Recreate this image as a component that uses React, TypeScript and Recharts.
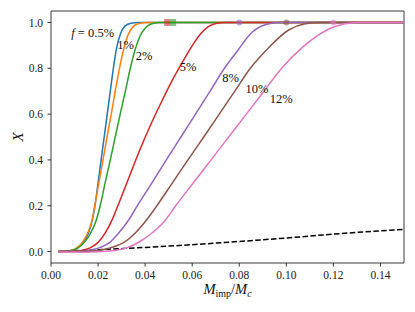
import React from 'react';
import {
  ComposedChart,
  Line,
  Scatter,
  XAxis,
  YAxis,
  ReferenceArea,
  ReferenceDot,
} from 'recharts';

// X vs impactor mass fraction, one curve per f
const f05 = [
  { m: 0.003, X: 0 }, { m: 0.008, X: 0.003 }, { m: 0.011, X: 0.014 }, { m: 0.0135, X: 0.038 },
  { m: 0.0159, X: 0.08 }, { m: 0.0175, X: 0.135 }, { m: 0.0187, X: 0.2 }, { m: 0.02, X: 0.3 },
  { m: 0.0213, X: 0.4 }, { m: 0.0226, X: 0.5 }, { m: 0.0239, X: 0.6 }, { m: 0.0252, X: 0.7 },
  { m: 0.0265, X: 0.8 }, { m: 0.0279, X: 0.89 }, { m: 0.0295, X: 0.95 }, { m: 0.0315, X: 0.985 },
  { m: 0.034, X: 0.997 }, { m: 0.037, X: 1 }, { m: 0.15, X: 1 },
];
const f1 = [
  { m: 0.003, X: 0 }, { m: 0.008, X: 0.004 }, { m: 0.011, X: 0.016 }, { m: 0.0135, X: 0.042 },
  { m: 0.0158, X: 0.085 }, { m: 0.0175, X: 0.14 }, { m: 0.0186, X: 0.2 }, { m: 0.02035, X: 0.3 },
  { m: 0.0221, X: 0.4 }, { m: 0.0238, X: 0.5 }, { m: 0.0256, X: 0.6 }, { m: 0.0273, X: 0.7 },
  { m: 0.0291, X: 0.8 }, { m: 0.0308, X: 0.88 }, { m: 0.0325, X: 0.94 }, { m: 0.0345, X: 0.977 },
  { m: 0.037, X: 0.994 }, { m: 0.041, X: 1 }, { m: 0.15, X: 1 },
];
const f2 = [
  { m: 0.003, X: 0 }, { m: 0.008, X: 0.003 }, { m: 0.0105, X: 0.01 }, { m: 0.0123, X: 0.022 },
  { m: 0.0145, X: 0.045 }, { m: 0.016, X: 0.065 }, { m: 0.0173, X: 0.09 }, { m: 0.019, X: 0.13 },
  { m: 0.0209, X: 0.2 }, { m: 0.023, X: 0.3 }, { m: 0.0252, X: 0.4 }, { m: 0.0273, X: 0.5 },
  { m: 0.0294, X: 0.6 }, { m: 0.0316, X: 0.7 }, { m: 0.0337, X: 0.8 }, { m: 0.0357, X: 0.88 },
  { m: 0.0378, X: 0.94 }, { m: 0.04, X: 0.975 }, { m: 0.0425, X: 0.993 }, { m: 0.046, X: 1 },
  { m: 0.15, X: 1 },
];
const f5 = [
  { m: 0.003, X: 0 }, { m: 0.009, X: 0.001 }, { m: 0.013, X: 0.005 }, { m: 0.0166, X: 0.016 },
  { m: 0.02, X: 0.04 }, { m: 0.023, X: 0.08 }, { m: 0.0258, X: 0.135 }, { m: 0.0284, X: 0.2 },
  { m: 0.033, X: 0.32 }, { m: 0.0376, X: 0.44 }, { m: 0.0422, X: 0.55 }, { m: 0.0468, X: 0.65 },
  { m: 0.0514, X: 0.745 }, { m: 0.0555, X: 0.82 }, { m: 0.0595, X: 0.89 }, { m: 0.0635, X: 0.95 },
  { m: 0.067, X: 0.983 }, { m: 0.0705, X: 0.997 }, { m: 0.074, X: 1 }, { m: 0.15, X: 1 },
];
const f8 = [
  { m: 0.003, X: 0 }, { m: 0.01, X: 0.001 }, { m: 0.015, X: 0.004 }, { m: 0.021, X: 0.018 },
  { m: 0.025, X: 0.04 }, { m: 0.0287, X: 0.08 }, { m: 0.0325, X: 0.13 }, { m: 0.0367, X: 0.2 },
  { m: 0.0429, X: 0.3 }, { m: 0.049, X: 0.4 }, { m: 0.0552, X: 0.5 }, { m: 0.0614, X: 0.6 },
  { m: 0.0676, X: 0.7 }, { m: 0.0737, X: 0.8 }, { m: 0.0795, X: 0.88 }, { m: 0.0847, X: 0.95 },
  { m: 0.091, X: 0.99 }, { m: 0.097, X: 1 }, { m: 0.15, X: 1 },
];
const f10 = [
  { m: 0.003, X: 0 }, { m: 0.012, X: 0.001 }, { m: 0.019, X: 0.004 }, { m: 0.024, X: 0.012 },
  { m: 0.027, X: 0.022 }, { m: 0.031, X: 0.04 }, { m: 0.0357, X: 0.08 }, { m: 0.04, X: 0.13 },
  { m: 0.045, X: 0.2 }, { m: 0.0516, X: 0.3 }, { m: 0.0582, X: 0.4 }, { m: 0.0649, X: 0.5 },
  { m: 0.0715, X: 0.6 }, { m: 0.0781, X: 0.7 }, { m: 0.0847, X: 0.8 }, { m: 0.0925, X: 0.89 },
  { m: 0.101, X: 0.967 }, { m: 0.108, X: 0.994 }, { m: 0.1145, X: 1 }, { m: 0.15, X: 1 },
];
const f12 = [
  { m: 0.003, X: -0.002 }, { m: 0.015, X: -0.003 }, { m: 0.025, X: 0.002 }, { m: 0.03, X: 0.01 },
  { m: 0.0336, X: 0.022 }, { m: 0.038, X: 0.045 }, { m: 0.0428, X: 0.08 }, { m: 0.048, X: 0.13 },
  { m: 0.053, X: 0.2 }, { m: 0.0605, X: 0.3 }, { m: 0.068, X: 0.4 }, { m: 0.0755, X: 0.5 },
  { m: 0.083, X: 0.6 }, { m: 0.0905, X: 0.7 }, { m: 0.098, X: 0.8 }, { m: 0.1067, X: 0.89 },
  { m: 0.1173, X: 0.967 }, { m: 0.125, X: 0.994 }, { m: 0.132, X: 1 }, { m: 0.15, X: 1 },
];
const baseline = [
  { m: 0.003, X: 0 }, { m: 0.02, X: 0.008 }, { m: 0.04, X: 0.018 }, { m: 0.06, X: 0.03 },
  { m: 0.08, X: 0.044 }, { m: 0.1, X: 0.059 }, { m: 0.12, X: 0.076 }, { m: 0.15, X: 0.097 },
];

const squareMarks = [
  { m: 0.0494, X: 1, color: '#d62728' },
  { m: 0.0519, X: 1, color: '#2ca02c' },
];
const circleMarks = [
  { m: 0.08, X: 1, color: '#9467bd' },
  { m: 0.1, X: 1, color: '#8c564b' },
  { m: 0.12, X: 1, color: '#e377c2' },
];

const curveLabels = [
  { m: 0.0177, X: 0.955, text: '0.5%', withF: true },
  { m: 0.0317, X: 0.9, text: '1%' },
  { m: 0.0396, X: 0.854, text: '2%' },
  { m: 0.0582, X: 0.807, text: '5%' },
  { m: 0.0763, X: 0.758, text: '8%' },
  { m: 0.0875, X: 0.71, text: '10%' },
  { m: 0.0978, X: 0.664, text: '12%' },
];

const xTicks = [0, 0.02, 0.04, 0.06, 0.08, 0.1, 0.12, 0.14];
const yTicks = [0, 0.2, 0.4, 0.6, 0.8, 1.0];

const curves = [
  { data: f05, color: '#1f77b4' },
  { data: f1, color: '#ff7f0e' },
  { data: f2, color: '#2ca02c' },
  { data: f5, color: '#d62728' },
  { data: f8, color: '#9467bd' },
  { data: f10, color: '#8c564b' },
  { data: f12, color: '#e377c2' },
];

const FONT = "'Liberation Serif', 'DejaVu Serif', serif";

const SquareShape = (p: any) => (
  <rect x={p.cx - 3} y={p.cy - 3.5} width={6} height={7} fill={p.payload.color} fillOpacity={0.6} />
);
const CircleShape = (p: any) => (
  <circle cx={p.cx} cy={p.cy} r={3} fill={p.payload.color} fillOpacity={0.6} />
);

const makeLabel = (text: string, withF?: boolean) => (props: any) => {
  const vb = props.viewBox;
  const cx = vb.x + vb.width / 2;
  const cy = vb.y + vb.height / 2;
  return (
    <text x={cx} y={cy} textAnchor="middle" dominantBaseline="central" style={{ fontFamily: FONT, fontSize: 12.5 }} fill="#111">
      {withF ? <tspan fontStyle="italic">f</tspan> : null}
      {withF ? <tspan>{' = ' + text}</tspan> : text}
    </text>
  );
};

const XLabel = (props: any) => {
  const vb = props.viewBox;
  const cx = vb.x + vb.width / 2;
  return (
    <text x={cx} y={vb.y + 31} textAnchor="middle" style={{ fontFamily: FONT, fontSize: 14.5 }} fill="#111">
      <tspan fontStyle="italic">M</tspan>
      <tspan fontSize={10} dy={3}>imp</tspan>
      <tspan dy={-3}>/</tspan>
      <tspan fontStyle="italic">M</tspan>
      <tspan fontSize={10} fontStyle="italic" dy={3}>c</tspan>
    </text>
  );
};

const YLabel = (props: any) => {
  const vb = props.viewBox;
  const cy = vb.y + vb.height / 2;
  return (
    <text x={18} y={cy} textAnchor="middle" dominantBaseline="central" style={{ fontFamily: FONT, fontSize: 15, fontStyle: 'italic' }} fill="#111" transform={`rotate(-90 18 ${cy})`}>
      X
    </text>
  );
};

const tickStyle = { fill: '#222', fontSize: 11.5, style: { fontFamily: FONT } };

export default function App() {
  return (
    <div style={{ position: 'absolute', left: 0, top: 0, background: '#fff', fontFamily: FONT }}>
      <ComposedChart width={415} height={312} margin={{ top: 11, right: 11, bottom: 0, left: 0 }}>
        <XAxis
          dataKey="m"
          type="number"
          domain={[0, 0.15]}
          ticks={xTicks}
          tickFormatter={(v: number) => v.toFixed(2)}
          height={49}
          axisLine={false}
          tickSize={3.5}
          tickMargin={4.5}
          tickLine={{ stroke: '#333' }}
          tick={tickStyle}
          label={<XLabel />}
          allowDataOverflow
        />
        <YAxis
          type="number"
          domain={[-0.05, 1.05]}
          ticks={yTicks}
          tickFormatter={(v: number) => v.toFixed(1)}
          width={51}
          axisLine={false}
          tickSize={3.5}
          tickMargin={4.5}
          tickLine={{ stroke: '#333' }}
          tick={tickStyle}
          label={<YLabel />}
          allowDataOverflow
        />
        <Line
          data={baseline}
          dataKey="X"
          type="monotone"
          stroke="#000"
          strokeWidth={1.5}
          strokeDasharray="5.5 2.4"
          dot={false}
          isAnimationActive={false}
        />
        {curves.map((c, i) => (
          <Line
            key={i}
            data={c.data}
            dataKey="X"
            type="monotone"
            stroke={c.color}
            strokeWidth={1.5}
            dot={false}
            isAnimationActive={false}
          />
        ))}
        <Scatter data={squareMarks} dataKey="X" shape={SquareShape} isAnimationActive={false} />
        <Scatter data={circleMarks} dataKey="X" shape={CircleShape} isAnimationActive={false} />
        {curveLabels.map((l, i) => (
          <ReferenceDot
            key={'l' + i}
            x={l.m}
            y={l.X}
            r={1}
            fill="none"
            stroke="none"
            label={makeLabel(l.text, l.withF)}
          />
        ))}
        <ReferenceArea x1={0} x2={0.15} y1={-0.05} y2={1.05} fill="none" stroke="#3a3a3a" strokeWidth={1} />
      </ComposedChart>
    </div>
  );
}
